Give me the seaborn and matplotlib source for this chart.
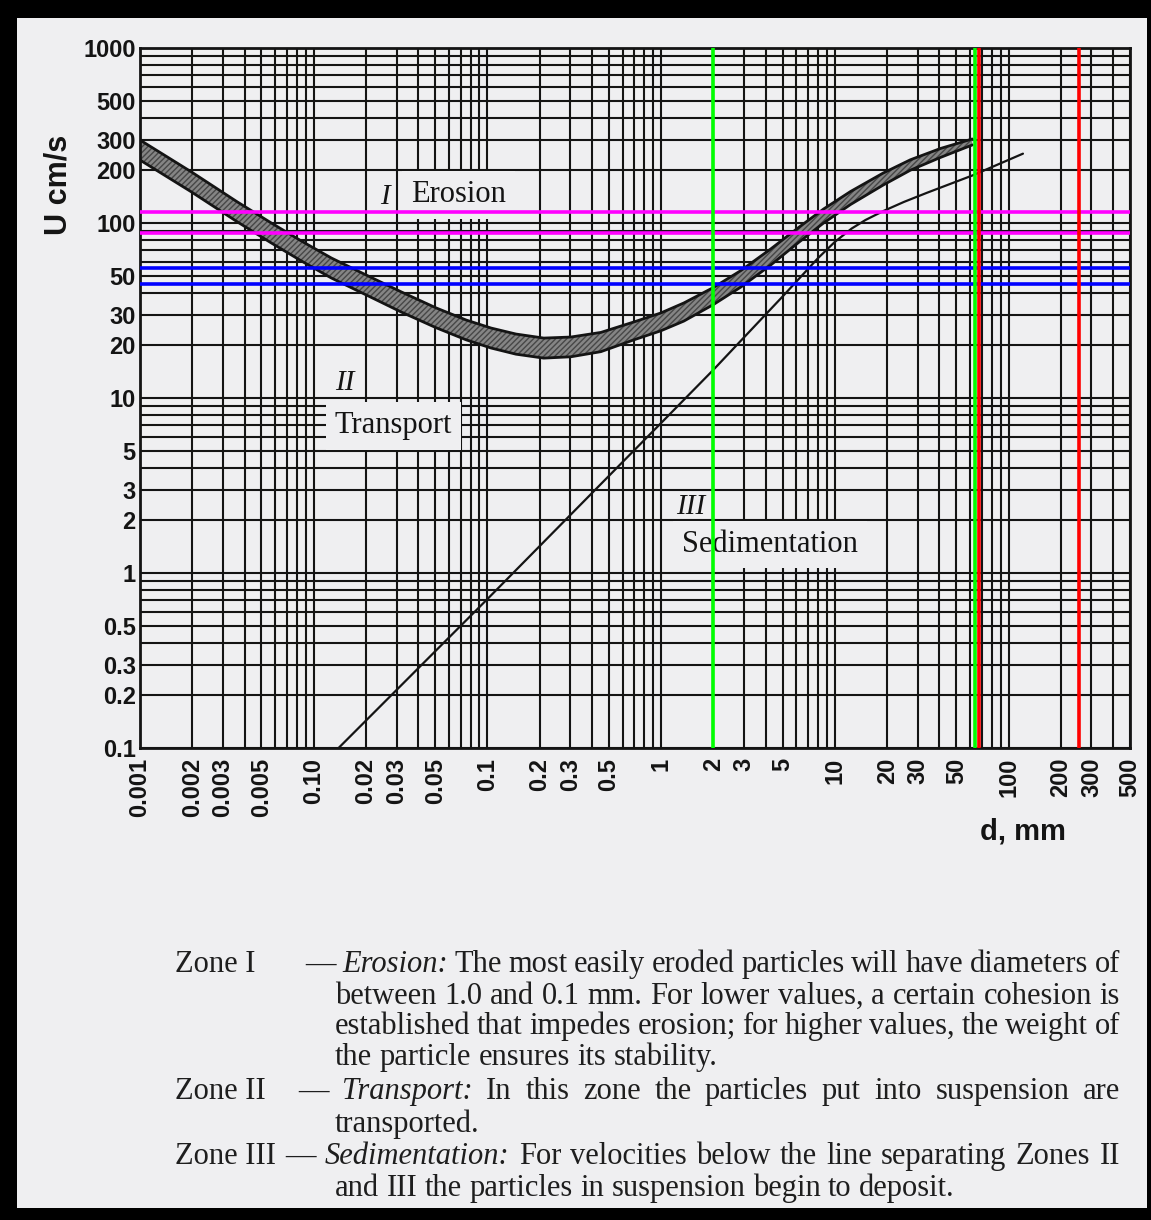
import numpy as np
import pandas as pd
import seaborn as sns
import matplotlib.pyplot as plt
from matplotlib.patches import Rectangle
from matplotlib.ticker import NullFormatter
from matplotlib.transforms import IdentityTransform

# erosion band (zone I / II boundary), upper and lower edge
band_d = [0.001, 0.00198, 0.00364, 0.0057, 0.00849, 0.01263, 0.02007, 0.0319, 0.0507, 0.0754,
          0.105, 0.146, 0.211, 0.302, 0.450, 0.697, 0.995, 1.35, 2.0, 2.87,
          4.27, 6.18, 8.61, 12.3, 19.0, 27.2, 40.5, 61.8]
band_hi = [298, 195.6, 131.8, 100.0, 78.9, 63.1, 50.4, 40.4, 32.7, 27.9,
           25.1, 23.2, 22.0, 22.3, 23.7, 27.2, 30.6, 34.9, 42.8, 53.4,
           71.0, 94.2, 120.2, 151.3, 193.1, 229.7, 266.5, 302.1]
band_lo = [229, 150.4, 101.4, 76.9, 60.7, 48.5, 38.8, 31.0, 25.2, 21.5,
           19.3, 17.8, 16.9, 17.2, 18.4, 21.5, 24.2, 27.5, 34.2, 43.0,
           57.5, 77.4, 100.0, 127.5, 164.9, 200.3, 236.8, 279.2]

# sedimentation line (zone II / III boundary)
sed_d = [0.0139, 0.1, 1.0, 2.0, 5.0, 8.0, 10.0, 12.5, 15.0, 19.0, 25.0, 34.0, 62.0, 121.0]
sed_u = [0.1, 0.71, 7.2, 14.5, 38, 63, 78, 93, 104, 117, 132, 149, 187, 249]

# coloured marker lines
magenta_u = [116, 88]
blue_u = [55, 45]
green_d = [2, 64]
red_d = [68, 256]

x_ticks = [0.001, 0.002, 0.003, 0.005, 0.01, 0.02, 0.03, 0.05, 0.1, 0.2, 0.3, 0.5,
           1, 2, 3, 5, 10, 20, 30, 50, 100, 200, 300, 500]
x_labels = ['0.001', '0.002', '0.003', '0.005', '0.10', '0.02', '0.03', '0.05', '0.1', '0.2',
            '0.3', '0.5', '1', '2', '3', '5', '10', '20', '30', '50', '100', '200', '300', '500']
y_ticks = [0.1, 0.2, 0.3, 0.5, 1, 2, 3, 5, 10, 20, 30, 50, 100, 200, 300, 500, 1000]
y_labels = ['0.1', '0.2', '0.3', '0.5', '1', '2', '3', '5', '10', '20', '30', '50',
            '100', '200', '300', '500', '1000']

notes = [
    (175, 972, 'Zone I', 305, '— *Erosion:* The most easily eroded particles will have diameters of', True),
    (None, 1004, None, 335, 'between 1.0 and 0.1 mm. For lower values, a certain cohesion is', True),
    (None, 1034, None, 335, 'established that impedes erosion; for higher values, the weight of', True),
    (None, 1065, None, 335, 'the particle ensures its stability.', False),
    (175, 1099, 'Zone II', 298, '— *Transport:* In this zone the particles put into suspension are', True),
    (None, 1132, None, 335, 'transported.', False),
    (175, 1164, 'Zone III', 285, '— *Sedimentation:* For velocities below the line separating Zones II', True),
    (None, 1196, None, 335, 'and III the particles in suspension begin to deposit.', False),
]

paper = '#efeff1'
ink = '#141414'

sns.set_theme(style='white')
plt.rcParams['font.family'] = ['Liberation Sans', 'DejaVu Sans']

W, H = 1151, 1220
fig = plt.figure(figsize=(W / 100, H / 100), dpi=100, facecolor='black')
fig.patches.append(Rectangle((17 / W, 12 / H), (1147 - 17) / W, (1220 - 12 - 18) / H,
                             transform=fig.transFigure, facecolor=paper, edgecolor='none', zorder=-1))
ax = fig.add_axes([140 / W, 1 - 748 / H, 990 / W, 700 / H])
ax.set_facecolor(paper)

band = pd.DataFrame({'d': band_d, 'hi': band_hi, 'lo': band_lo})
sed = pd.DataFrame({'d': sed_d, 'u': sed_u})

ax.fill_between(band['d'], band['lo'], band['hi'], facecolor='#858585', edgecolor='#474747',
                hatch='//////', linewidth=0, zorder=2)
sns.lineplot(data=band, x='d', y='hi', color=ink, lw=2.0, estimator=None, ax=ax, zorder=3)
sns.lineplot(data=band, x='d', y='lo', color=ink, lw=2.0, estimator=None, ax=ax, zorder=3)
sns.lineplot(data=sed, x='d', y='u', color=ink, lw=1.6, estimator=None, ax=ax, zorder=3)

ax.set_xscale('log')
ax.set_yscale('log')
ax.set_xlim(0.001, 500)
ax.set_ylim(0.1, 1000)

# graph paper grid
grid_x = [m * 10.0 ** k for k in range(-3, 3) for m in range(1, 10) if m * 10.0 ** k <= 500]
grid_y = [m * 10.0 ** k for k in range(-1, 3) for m in range(1, 10)] + [1000]
ax.set_xticks(x_ticks)
ax.set_xticklabels(x_labels, rotation=90)
ax.set_yticks(y_ticks)
ax.set_yticklabels(y_labels)
ax.set_xticks(grid_x, minor=True)
ax.set_yticks(grid_y, minor=True)
ax.xaxis.set_minor_formatter(NullFormatter())
ax.yaxis.set_minor_formatter(NullFormatter())
ax.tick_params(which='both', length=0, labelsize=17, labelcolor=ink)
ax.tick_params(axis='x', pad=7)
ax.tick_params(axis='y', pad=3)
for lab in ax.get_xticklabels() + ax.get_yticklabels():
    lab.set_fontweight('bold')
ax.grid(which='both', color=ink, lw=1.5)
ax.set_axisbelow(True)
for s in ax.spines.values():
    s.set_color(ink)
    s.set_linewidth(2)

ax.set_xlabel('d, mm', fontsize=21, color=ink, fontweight='bold')
ax.xaxis.set_label_coords(0.892, -0.1)
ax.set_ylabel('U cm/s', fontsize=22, color=ink, fontweight='bold')
ax.yaxis.set_label_coords(-0.067, 0.804)

for u in magenta_u:
    ax.axhline(u, color='#ff00ff', lw=2.6, zorder=5)
for u in blue_u:
    ax.axhline(u, color='#0000ff', lw=2.6, zorder=5)
for d in green_d:
    ax.axvline(d, color='#00ff00', lw=2.6, zorder=5)
for d in red_d:
    ax.axvline(d, color='#ff0000', lw=2.6, zorder=5)

# zone labels
serif = ['Liberation Serif', 'DejaVu Serif']
box = dict(boxstyle='square,pad=0.3', facecolor=paper, edgecolor='none')
ax.text(0.247, 0.787, 'I', transform=ax.transAxes, ha='center', va='center', family=serif,
        style='italic', fontsize=21, color=ink, zorder=4)
ax.text(0.322, 0.790, 'Erosion', transform=ax.transAxes, ha='center', va='center', family=serif,
        fontsize=22, color=ink, bbox=box, zorder=4)
ax.text(0.207, 0.521, 'II', transform=ax.transAxes, ha='center', va='center', family=serif,
        style='italic', fontsize=21, color=ink, zorder=4)
ax.text(0.256, 0.460, 'Transport', transform=ax.transAxes, ha='center', va='center', family=serif,
        fontsize=22, color=ink, bbox=box, zorder=4)
ax.text(0.556, 0.344, 'III', transform=ax.transAxes, ha='center', va='center', family=serif,
        style='italic', fontsize=21, color=ink, zorder=4)
ax.text(0.636, 0.291, 'Sedimentation', transform=ax.transAxes, ha='center', va='center',
        family=serif, fontsize=22, color=ink, bbox=box, zorder=4)

# explanatory notes under the chart, justified like the printed page
fig.canvas.draw()
rend = fig.canvas.get_renderer()


def put(x, y, s, italic=False):
    return fig.text(x, H - y, s, transform=IdentityTransform(), family=serif, fontsize=22,
                    style='italic' if italic else 'normal', color='#1e1e1e', va='baseline')


for zx, y, zone, x0, line, justify in notes:
    if zone:
        put(zx, y, zone)
    words = line.split(' ')
    arts = [put(0, y, w.strip('*'), w.startswith('*')) for w in words]
    widths = [a.get_window_extent(rend).width for a in arts]
    gap = (1120 - x0 - sum(widths)) / (len(arts) - 1) if justify else 7.5
    x = x0
    for a, w in zip(arts, widths):
        a.set_x(x)
        x += w + gap

fig.savefig('out.png', dpi=100, facecolor='black')
